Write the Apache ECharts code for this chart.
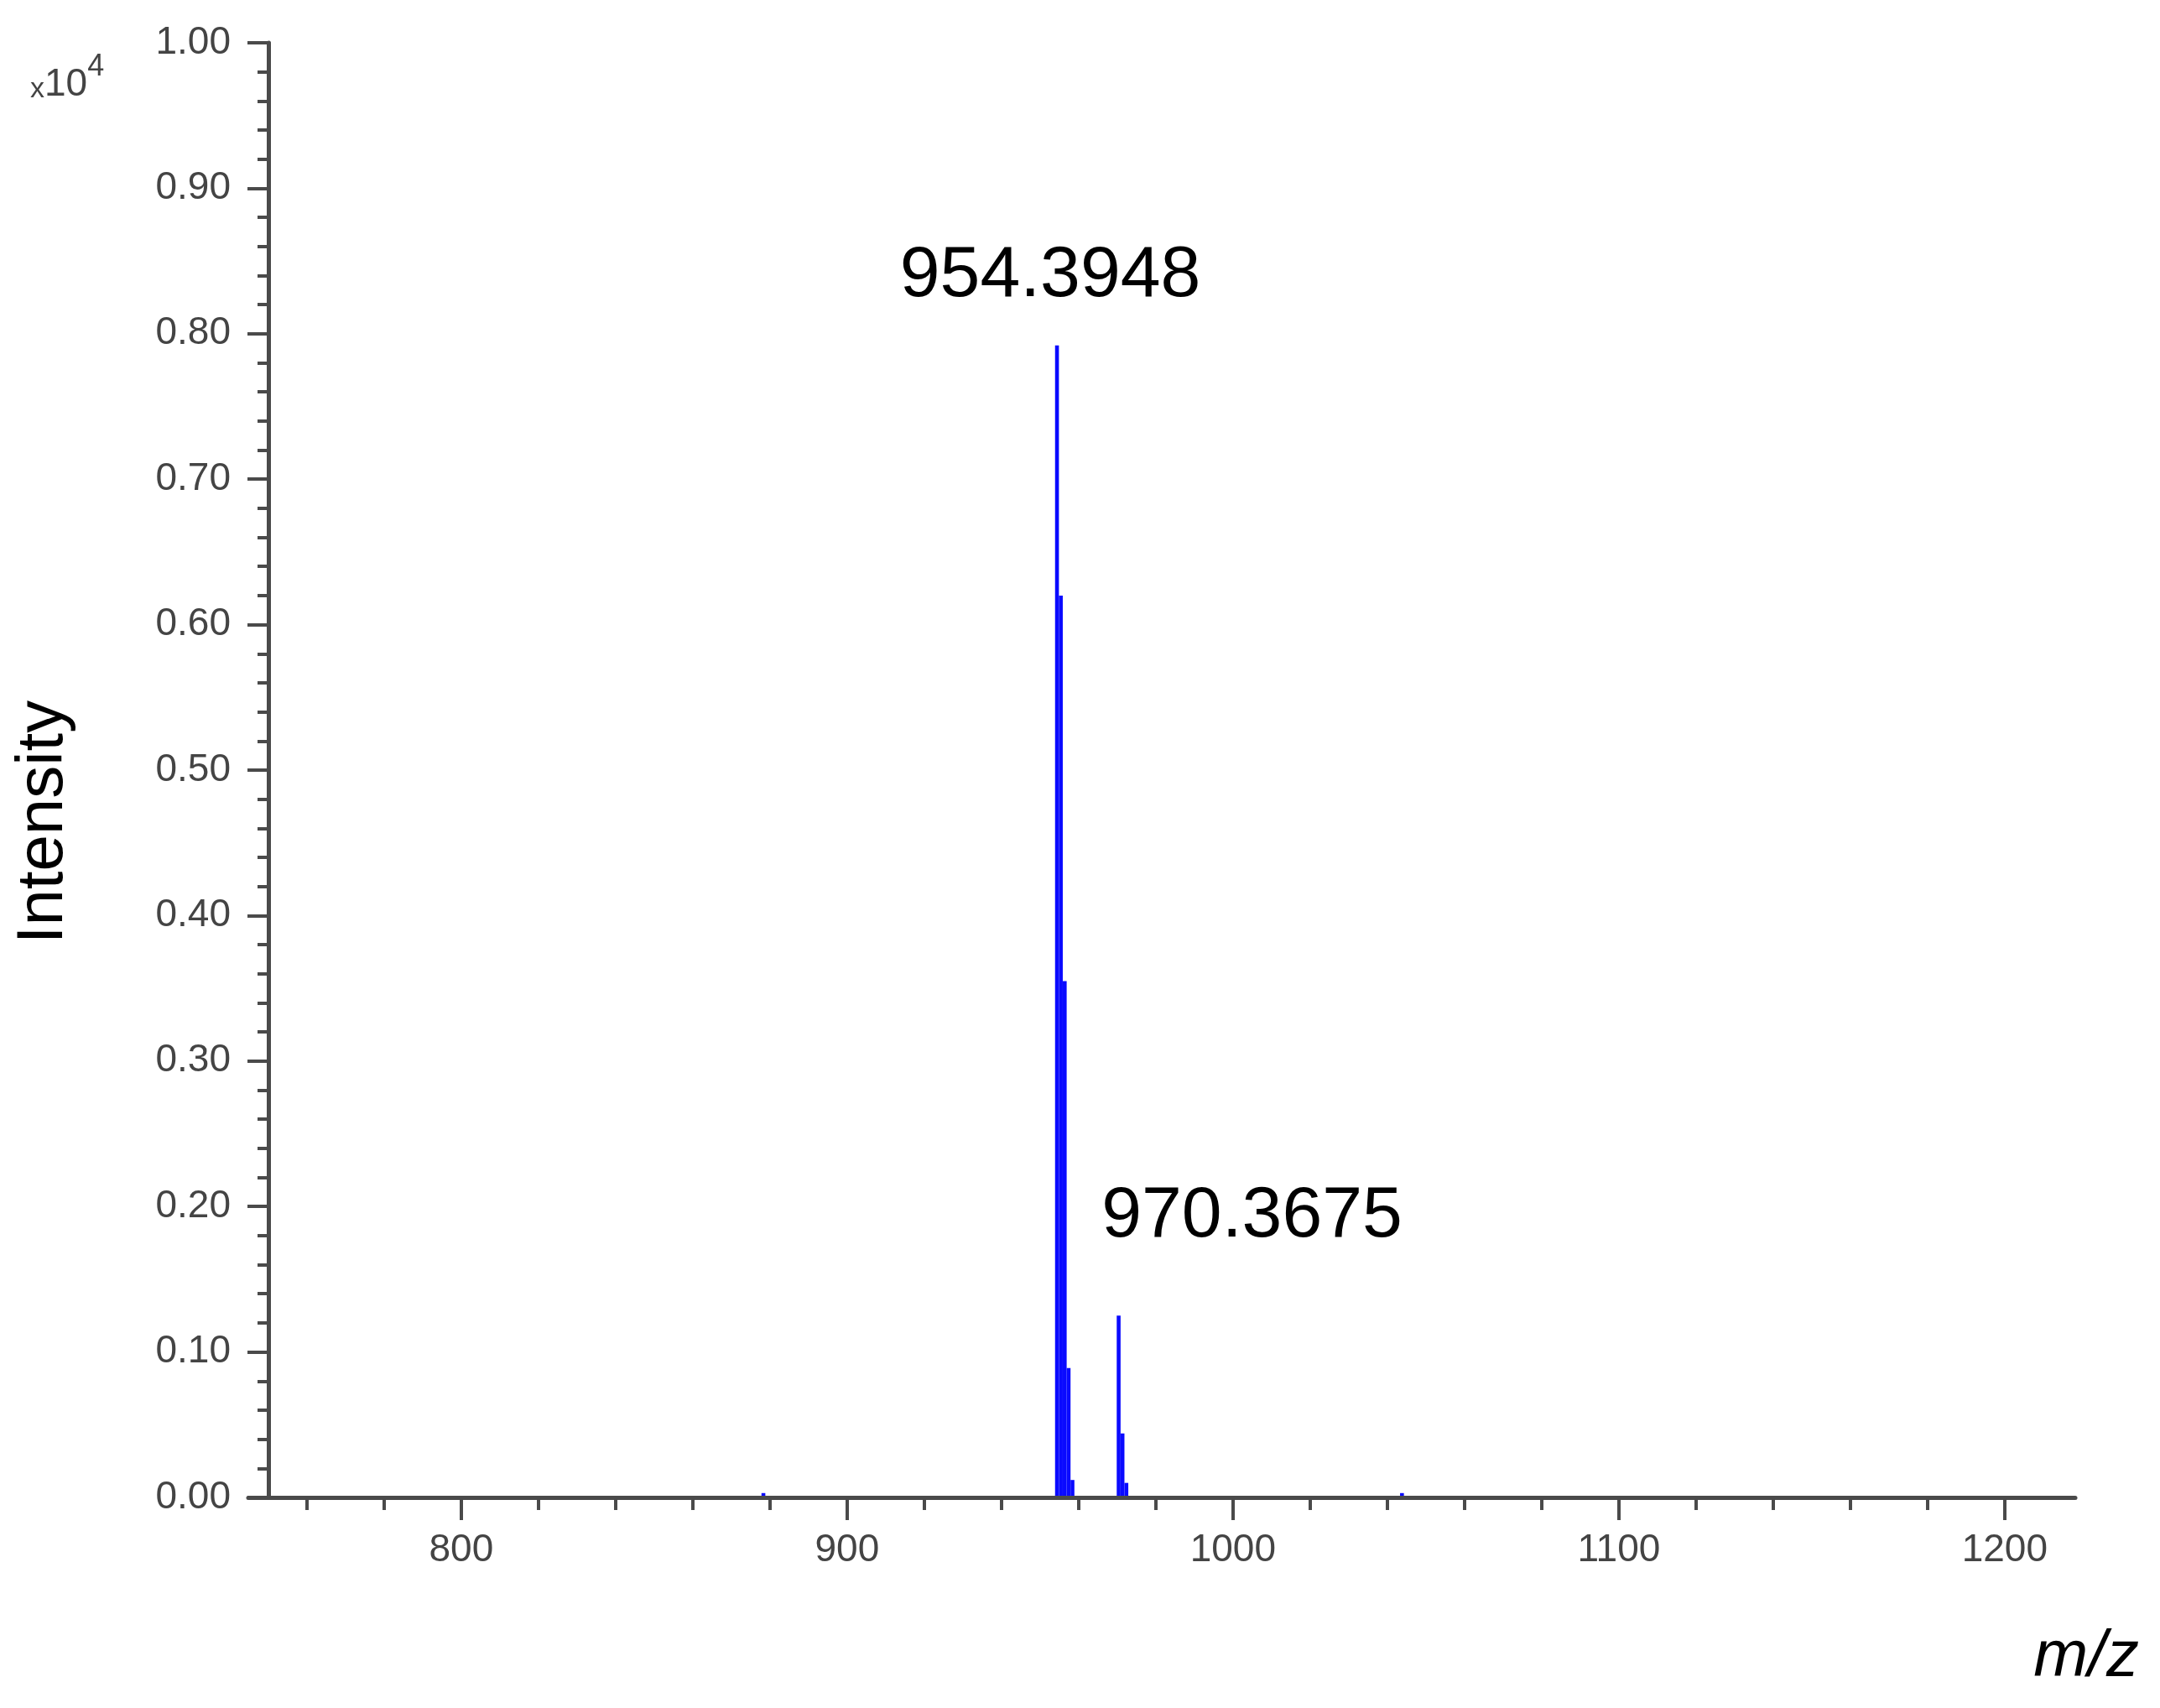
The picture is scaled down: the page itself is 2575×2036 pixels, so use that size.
<!DOCTYPE html>
<html>
<head>
<meta charset="utf-8">
<script src="https://cdn.jsdelivr.net/npm/echarts@6/dist/echarts.min.js"></script>
<style>
    html, body { margin: 0; padding: 0; background: #fff; }
    #main { width: 2575px; height: 2036px; }
</style>
</head>
<body>
<div id="main"></div>
<script>
/**
 * DATA (intensity in units of x10^4)
 */
var peakMz = [878.3, 954.39, 955.39, 956.40, 957.40, 958.40, 970.37, 971.37, 972.37, 1043.8];
var peakIntensity = [0.003, 0.792, 0.620, 0.355, 0.089, 0.012, 0.125, 0.044, 0.010, 0.003];

var labelMz = [954.3948, 970.3675];
var labelIntensity = [0.792, 0.125];
var labelText = ['954.3948', '970.3675'];

var xMajorTicks = [800, 900, 1000, 1100, 1200];
var xMinorTicks = [760, 780, 820, 840, 860, 880, 920, 940, 960, 980,
    1020, 1040, 1060, 1080, 1120, 1140, 1160, 1180];

/**
 * STYLE
 */
var labelOffsets = [[-8, -82], [159, -118]];   // px from peak top to label centre
var axisColor = '#4a4a4a';
var tickFont = '"Liberation Sans", Arial, sans-serif';
var mainFont = '"Liberation Sans", Arial, sans-serif';

var chart = echarts.init(document.getElementById('main'));

var peakData = peakMz.map(function (mz, i) {
    return [mz, peakIntensity[i]];
});
var labelData = labelMz.map(function (mz, i) {
    return [mz, labelIntensity[i], i];
});

var option = {
    backgroundColor: '#fff',
    animation: false,
    grid: {left: 296, right: 101, top: 51, bottom: 251},
    xAxis: [
        {
            type: 'value',
            min: 744.8,
            max: 1218.3,
            splitLine: {show: false},
            axisLine: {show: true, lineStyle: {color: axisColor, width: 5}},
            axisTick: {
                show: true, length: 27, customValues: xMajorTicks,
                lineStyle: {color: axisColor, width: 4}
            },
            axisLabel: {
                customValues: xMajorTicks, margin: 40,
                color: '#444', fontSize: 46, fontFamily: tickFont,
                formatter: function (v) {
                    return String(v);
                }
            }
        },
        {
            type: 'value',
            min: 744.8,
            max: 1218.3,
            position: 'bottom',
            splitLine: {show: false},
            axisLine: {show: false},
            axisTick: {
                show: true, length: 15, customValues: xMinorTicks,
                lineStyle: {color: axisColor, width: 4}
            },
            axisLabel: {show: false}
        }
    ],
    yAxis: {
        type: 'value',
        min: 0,
        max: 1,
        interval: 0.1,
        offset: -24,
        splitLine: {show: false},
        axisLine: {show: true, lineStyle: {color: axisColor, width: 5}},
        axisTick: {show: true, length: 25, lineStyle: {color: axisColor, width: 4}},
        minorTick: {show: true, splitNumber: 5, length: 13, lineStyle: {color: axisColor, width: 4}},
        minorSplitLine: {show: false},
        axisLabel: {
            margin: 45, color: '#444', fontSize: 46, fontFamily: tickFont,
            formatter: function (v) {
                return v.toFixed(2);
            }
        }
    },
    graphic: [
        {
            type: 'text', x: 36, y: 124,
            style: {
                text: '{x|x}{n|10}{s|4}',
                textVerticalAlign: 'bottom',
                rich: {
                    x: {fontSize: 34, fontFamily: tickFont, fill: '#444', verticalAlign: 'bottom'},
                    n: {fontSize: 46, fontFamily: tickFont, fill: '#444', verticalAlign: 'bottom'},
                    s: {fontSize: 36, fontFamily: tickFont, fill: '#444', verticalAlign: 'top', padding: [0, 0, 26, 0]}
                }
            }
        },
        {
            type: 'text', x: 52, y: 980, rotation: Math.PI / 2,
            style: {
                text: 'Intensity', fill: '#000',
                font: '78px ' + mainFont,
                textAlign: 'center', textVerticalAlign: 'middle'
            }
        },
        {
            type: 'text', x: 2550, y: 1976,
            style: {
                text: 'm/z', fill: '#000',
                font: 'italic 78px ' + mainFont,
                textAlign: 'right', textVerticalAlign: 'middle'
            }
        }
    ],
    series: [
        {
            type: 'custom',
            name: 'spectrum',
            xAxisIndex: 0,
            yAxisIndex: 0,
            data: peakData,
            renderItem: function (params, api) {
                var top = api.coord([api.value(0), api.value(1)]);
                var base = api.coord([api.value(0), 0]);
                return {
                    type: 'line',
                    shape: {x1: top[0], y1: top[1], x2: base[0], y2: base[1] - 2},
                    style: {stroke: '#0a0aff', lineWidth: 4.6}
                };
            }
        },
        {
            type: 'custom',
            name: 'labels',
            xAxisIndex: 0,
            yAxisIndex: 0,
            data: labelData,
            renderItem: function (params, api) {
                var i = api.value(2);
                var p = api.coord([api.value(0), api.value(1)]);
                return {
                    type: 'text',
                    x: p[0] + labelOffsets[i][0],
                    y: p[1] + labelOffsets[i][1],
                    style: {
                        text: labelText[i], fill: '#000',
                        font: '86px ' + mainFont,
                        textAlign: 'center', textVerticalAlign: 'middle'
                    }
                };
            }
        }
    ]
};

chart.setOption(option);
</script>
</body>
</html>
